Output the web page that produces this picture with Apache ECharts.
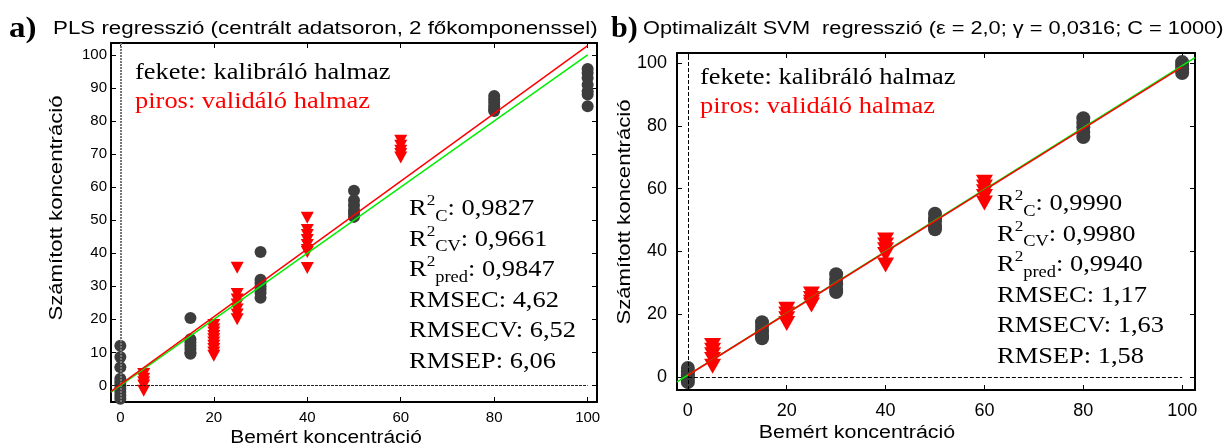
<!DOCTYPE html>
<html>
<head>
<meta charset="utf-8">
<script src="https://cdn.jsdelivr.net/npm/echarts@6.0.0/dist/echarts.min.js"></script>
<style>
  html, body { margin: 0; padding: 0; background: #fff; }
  #main { width: 1230px; height: 448px; }
</style>
</head>
<body>
<div id="main"></div>
<script>
// a) PLS regression
var xTicksA = [0, 20, 40, 60, 80, 100];
var yTicksA = [0, 10, 20, 30, 40, 50, 60, 70, 80, 90, 100];
var calXA = [0, 15, 30, 50, 80, 100];
var calYA = [
  [12, 8.6, 5.5, 2, 1, 0, -1, -2, -3, -4],
  [20.4, 14, 13, 12, 11, 10, 9.6],
  [40.4, 32, 31, 30, 29, 28, 26.5],
  [58.9, 56, 54.5, 53, 52, 51],
  [87.6, 86.5, 85.5, 84.5, 83.5, 83],
  [95.7, 94.5, 93, 91, 89, 88, 84.5]
];
var valXA = [5, 20, 25, 40, 60];
var valYA = [
  [3.5, 2, 1, 0, -1.6],
  [18.3, 17, 16, 15, 14, 13, 12, 11, 10, 9],
  [35.6, 27.7, 26, 24.5, 23, 21.5, 20],
  [50.7, 47, 45.5, 44, 42.5, 41, 40.4, 35.5],
  [74, 72.5, 71, 70, 69]
];
var fitA = [[-2, -1.8], [100, 102.8]];
var idealA = [[-2, -2], [100, 100]];
var statsA = ['0,9827', '0,9661', '0,9847', '4,62', '6,52', '6,06'];

// b) SVM regression
var xTicksB = [0, 20, 40, 60, 80, 100];
var yTicksB = [0, 20, 40, 60, 80, 100];
var calXB = [0, 15, 30, 50, 80, 100];
var calYB = [
  [2.8, 1.5, 0.5, -0.5, -1.7],
  [17.4, 16, 14.5, 13.2, 12.3],
  [32.7, 31, 29.5, 28, 27],
  [52, 50.5, 49.5, 48, 47],
  [82.4, 81, 79.5, 78, 76.4],
  [100.3, 99.2, 98, 96.8]
];
var valXB = [5, 20, 25, 40, 60];
var valYB = [
  [10, 8.5, 7, 5.5, 3.4],
  [21.5, 20, 18.5, 17],
  [26.4, 25, 23.8, 22.9],
  [43.6, 42, 40.5, 39, 35.6],
  [62, 60.5, 59, 57.5, 55.4]
];
var fitB = [[0, 0.5], [100, 98.8]];
var idealB = [[-2.2, -1.6], [102.6, 101.7]];
var statsB = ['0,9990', '0,9980', '0,9940', '1,17', '1,63', '1,58'];

var sans = 'Liberation Sans, Arial, sans-serif';
var serif = 'Liberation Serif, Times New Roman, serif';

function pairs(xs, ys) {
  var out = [];
  xs.forEach(function (x, i) {
    ys[i].forEach(function (y) { out.push([x, y]); });
  });
  return out;
}

function xAxisOf(grid, min, max, ticks, pos, size, margin) {
  return {
    gridIndex: grid, type: 'value', min: min, max: max, position: pos,
    axisLine: { onZero: false, lineStyle: { color: '#000', width: 2 } },
    axisTick: { inside: true, length: 5, customValues: ticks, lineStyle: { color: '#000', width: 1 } },
    axisLabel: { show: pos === 'bottom', customValues: ticks, color: '#000', fontFamily: sans, fontSize: size, margin: margin },
    splitLine: { show: false }
  };
}

function yAxisOf(grid, min, max, ticks, pos, size, margin) {
  return {
    gridIndex: grid, type: 'value', min: min, max: max, position: pos,
    axisLine: { onZero: false, lineStyle: { color: '#000', width: 2 } },
    axisTick: { inside: true, length: 5, customValues: ticks, lineStyle: { color: '#000', width: 1 } },
    axisLabel: { show: pos === 'left', customValues: ticks, color: '#000', fontFamily: sans, fontSize: size, margin: margin },
    splitLine: { show: false }
  };
}

function statsText(v) {
  return [
    '{r|R}{sup|2}{sub|C}{r|: ' + v[0] + '}',
    '{r|R}{sup|2}{sub|CV}{r|: ' + v[1] + '}',
    '{r|R}{sup|2}{sub|pred}{r|: ' + v[2] + '}',
    '{r|RMSEC: ' + v[3] + '}',
    '{r|RMSECV: ' + v[4] + '}',
    '{r|RMSEP: ' + v[5] + '}'
  ].join('\n');
}

var statsRich = {
  r: { fontSize: 23, fontFamily: serif, lineHeight: 30.5, fill: '#000' },
  sup: { fontSize: 15, fontFamily: serif, lineHeight: 18, verticalAlign: 'top' },
  sub: { fontSize: 16, fontFamily: serif, lineHeight: 16, verticalAlign: 'bottom' }
};

function refLines(xi, yi, vStyle, hStyle, hFrom, hTo) {
  return {
    type: 'line', xAxisIndex: xi, yAxisIndex: yi, data: [], z: 1, silent: true,
    markLine: {
      silent: true, symbol: 'none', animation: false, label: { show: false },
      data: [
        { xAxis: 0, lineStyle: vStyle },
        [{ coord: [hFrom, 0], lineStyle: hStyle }, { coord: [hTo, 0] }]
      ]
    }
  };
}

function lineSeries(xi, yi, data, color) {
  return {
    type: 'line', xAxisIndex: xi, yAxisIndex: yi, data: data, z: 5,
    showSymbol: false, silent: true, lineStyle: { color: color, width: 1.5 }
  };
}

function label(x, y, text, size, family, color, sx, extra) {
  var el = {
    type: 'text', x: x, y: y, scaleX: sx,
    style: { text: text, fontSize: size, fontFamily: family, fill: color, verticalAlign: 'middle' }
  };
  if (extra) {
    for (var k in extra) el.style[k] = extra[k];
  }
  return el;
}

var chart = echarts.init(document.getElementById('main'));

var option = {
  animation: false,
  grid: [
    { left: 111, top: 43, width: 486, height: 359 },
    { left: 677, top: 53, width: 518, height: 337 }
  ],
  xAxis: [
    xAxisOf(0, -2, 102, xTicksA, 'bottom', 15, 8),
    xAxisOf(0, -2, 102, xTicksA, 'top', 15, 8),
    xAxisOf(1, -2.2, 102.6, xTicksB, 'bottom', 18, 12),
    xAxisOf(1, -2.2, 102.6, xTicksB, 'top', 18, 12)
  ],
  yAxis: [
    yAxisOf(0, -5, 103.6, yTicksA, 'left', 15, 4),
    yAxisOf(0, -5, 103.6, yTicksA, 'right', 15, 4),
    yAxisOf(1, -4.2, 103.2, yTicksB, 'left', 18, 10),
    yAxisOf(1, -4.2, 103.2, yTicksB, 'right', 18, 10)
  ],
  series: [
    refLines(0, 0,
      { color: '#777', width: 2, type: [2, 1] },
      { color: '#222', width: 1, type: [3, 1] }, -2, 100),
    {
      type: 'scatter', xAxisIndex: 0, yAxisIndex: 0, z: 2,
      symbol: 'circle', symbolSize: 12,
      itemStyle: { color: '#3d3d3d', opacity: 1 },
      data: pairs(calXA, calYA)
    },
    {
      type: 'scatter', xAxisIndex: 0, yAxisIndex: 0, z: 3,
      symbol: 'triangle', symbolRotate: 180, symbolSize: [13, 12],
      itemStyle: { color: '#ff0000', opacity: 1 },
      data: pairs(valXA, valYA)
    },
    lineSeries(0, 0, idealA, '#00ee00'),
    lineSeries(0, 0, fitA, '#ff0000'),

    refLines(2, 2,
      { color: '#000', width: 1, type: [4, 2] },
      { color: '#000', width: 1, type: [4, 2] }, 0, 100),
    {
      type: 'scatter', xAxisIndex: 2, yAxisIndex: 2, z: 2,
      symbol: 'circle', symbolSize: 14,
      itemStyle: { color: '#3d3d3d', opacity: 1 },
      data: pairs(calXB, calYB)
    },
    {
      type: 'scatter', xAxisIndex: 2, yAxisIndex: 2, z: 3,
      symbol: 'triangle', symbolRotate: 180, symbolSize: [17, 15],
      itemStyle: { color: '#ff0000', opacity: 1 },
      data: pairs(valXB, valYB)
    },
    lineSeries(2, 2, idealB, '#00ee00'),
    lineSeries(2, 2, fitB, '#ff0000')
  ],
  graphic: [
    label(9, 29, 'a)', 30, serif, '#000', 1.1, { fontWeight: 'bold' }),
    label(53, 29, 'PLS regresszió (centrált adatsoron, 2 főkomponenssel)', 18, sans, '#000', 1.24),
    label(611, 29, 'b)', 30, serif, '#000', 1.0, { fontWeight: 'bold' }),
    label(643, 29, 'Optimalizált SVM  regresszió (ε = 2,0; γ = 0,0316; C = 1000)', 18, sans, '#000', 1.21),

    {
      type: 'text', x: 57, y: 208, rotation: Math.PI / 2, scaleX: 1.23,
      style: { text: 'Számított koncentráció', fontSize: 18, fontFamily: sans, fill: '#000', align: 'center', verticalAlign: 'middle' }
    },
    {
      type: 'text', x: 625, y: 212, rotation: Math.PI / 2, scaleX: 1.23,
      style: { text: 'Számított koncentráció', fontSize: 18, fontFamily: sans, fill: '#000', align: 'center', verticalAlign: 'middle' }
    },
    label(326, 438, 'Bemért koncentráció', 18, sans, '#000', 1.16, { align: 'center' }),
    label(857, 433, 'Bemért koncentráció', 18, sans, '#000', 1.19, { align: 'center' }),

    label(135, 73, 'fekete: kalibráló halmaz', 23, serif, '#000', 1.15),
    label(135, 102, 'piros: validáló halmaz', 23, serif, '#ff0000', 1.15),
    label(700, 78, 'fekete: kalibráló halmaz', 23, serif, '#000', 1.15),
    label(700, 107, 'piros: validáló halmaz', 23, serif, '#ff0000', 1.15),

    { type: 'text', x: 409, y: 194, scaleX: 1.15, style: { text: statsText(statsA), rich: statsRich, fill: '#000', verticalAlign: 'top' } },
    { type: 'text', x: 997, y: 189, scaleX: 1.15, style: { text: statsText(statsB), rich: statsRich, fill: '#000', verticalAlign: 'top' } }
  ]
};

chart.setOption(option);
</script>
</body>
</html>
